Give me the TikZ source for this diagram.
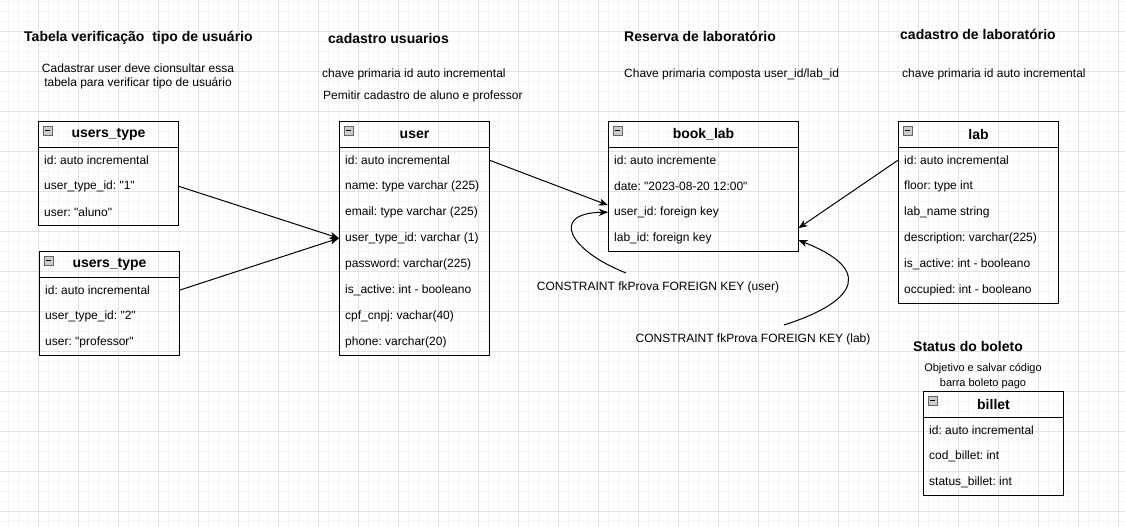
\documentclass[tikz,border=0pt]{standalone}
\usepackage{fontspec}
\setmainfont{Liberation Sans}
\usetikzlibrary{arrows.meta,calc}
\definecolor{gridmajor}{HTML}{E2E2E2}
\definecolor{gridminor}{HTML}{F5F5F5}
\newcommand\sq{\XeTeXglyph\XeTeXcharglyph"22\relax}
\tikzset{
  hdr/.style={draw, line width=1pt, minimum height=26pt, inner sep=0pt, anchor=north west,
    font=\bfseries\fontsize{14}{16}\selectfont},
  rowbox/.style={minimum height=26pt, inner xsep=6pt, inner ysep=0pt, anchor=north west,
    font=\fontsize{12}{14}\selectfont},
  frame/.style={draw, line width=1pt},
  minusicon/.style={draw=black!60, fill=black!20, line width=0.8pt},
  conn/.style={draw, line width=1pt, -{Stealth[length=9pt,width=7pt,inset=2.5pt]}},
  ttl/.style={inner sep=0pt, anchor=west, font=\bfseries\fontsize{14}{16}\selectfont},
  note/.style={inner sep=0pt, anchor=west, font=\fontsize{12}{14}\selectfont},
}
% #1 name, #2 x, #3 y, #4 width, #5 title, #6 rows, #7 number of rows
\newcommand\mktable[7]{%
  \node[hdr, minimum width=#4pt] (#1) at (#2,#3) {\raisebox{-1.5pt}{#5}};
  \draw[minusicon] ({#2+5},{#3+5}) rectangle ++(9,9);
  \draw[line width=0.8pt] ({#2+7},{#3+9.5}) -- ++(5,0);
  \foreach \r [count=\i] in {#6} {
    \node[rowbox] (#1-\i) at (#2,{#3+26*\i}) {\raisebox{-1.5pt}{\makebox[\dimexpr#4pt-12pt\relax][l]{\r}}};
  }
  \draw[frame] (#2,#3) rectangle ({#2+#4},{#3+26+26*#7});
}
\begin{document}
\frenchspacing
\begin{tikzpicture}[x=1pt,y=-1pt]
\useasboundingbox (0,0) rectangle (1125,527);
\fill[white] (0,0) rectangle (1125,527);
% grid
\foreach \x in {8,18,...,1118} \draw[gridminor, line width=0.8pt] (\x,0) -- (\x,527);
\foreach \y in {1,11,...,521} \draw[gridminor, line width=0.8pt] (0,\y) -- (1125,\y);
\foreach \x in {38,78,...,1118} \draw[gridmajor, line width=0.9pt] (\x,0) -- (\x,527);
\foreach \y in {31,71,...,511} \draw[gridmajor, line width=0.9pt] (0,\y) -- (1125,\y);

% titles and notes
\node[ttl] (t1) at (24,38) {Tabela verificação\ \ tipo de usuário};
\node[inner sep=0pt, align=center, font=\fontsize{12}{14}\selectfont] (d1) at (138,76)
  {Cadastrar user deve cionsultar essa\\tabela para verificar tipo de usuário};
\node[ttl] (t2) at (328,38) {cadastro usuarios};
\node[note] (d2a) at (322,74) {chave primaria id auto incremental};
\node[note] (d2b) at (323,96) {Pemitir cadastro de aluno e professor};
\node[ttl] (t3) at (624,36) {Reserva de laboratório};
\node[note] (d3) at (624,74) {Chave primaria composta user\_id/lab\_id};
\node[ttl] (t4) at (900,34) {cadastro de laboratório};
\node[note] (d4) at (902,74) {chave primaria id auto incremental};
\node[ttl] (t5) at (913,346) {Status do boleto};
\node[inner sep=0pt, align=center, font=\fontsize{11}{15}\selectfont] (d5) at (983,376)
  {Objetivo e salvar código\\barra boleto pago};

% tables
\mktable{ut1}{38}{121}{140}{users\_type}{id: auto incremental,user\_type\_id: \sq1\sq,user: \sq aluno\sq}{3}
\mktable{ut2}{39}{251}{140}{users\_type}{id: auto incremental,user\_type\_id: \sq2\sq,user: \sq professor\sq}{3}
\mktable{user}{339}{121}{150}{user}{id: auto incremental,name: type varchar (225),email: type varchar (225),user\_type\_id: varchar (1),password: varchar(225),is\_active: int - booleano,cpf\_cnpj: vachar(40),phone: varchar(20)}{8}
\mktable{book}{608}{121}{190}{book\_lab}{id: auto incremente,date: \sq2023-08-20 12:00\sq,user\_id: foreign key,lab\_id: foreign key}{4}
\mktable{lab}{898}{121}{160}{lab}{id: auto incremental,floor: type int,lab\_name string,description: varchar(225),is\_active: int - booleano,occupied: int - booleano}{6}
\mktable{billet}{923}{391}{140}{billet}{id: auto incremental,cod\_billet: int,status\_billet: int}{3}

% constraint labels
\node[inner sep=0pt, font=\fontsize{12}{14}\selectfont] (c1) at (658,287) {CONSTRAINT fkProva FOREIGN KEY (user)};
\node[inner sep=0pt, font=\fontsize{12}{14}\selectfont] (c2) at (753,339) {CONSTRAINT fkProva FOREIGN KEY (lab)};
\coordinate (c1s) at (626,273);
\coordinate (c2s) at (784,325);

% connectors
\draw[conn] (ut1-2.east) -- (user-4.west);
\draw[conn] (ut2-1.east) -- (user-4.west);
\draw[conn] (user-1.east) -- ([yshift=7pt]book-3.west);
\draw[conn] (lab-1.west) -- ([yshift=10pt]book-4.east);
\draw[conn] (c1s) .. controls (568,250) and (550,213) .. (book-3.west);
\draw[conn] (c2s) .. controls (862,300) and (870,268) .. ([yshift=-2pt]book-4.east);
\end{tikzpicture}
\end{document}
